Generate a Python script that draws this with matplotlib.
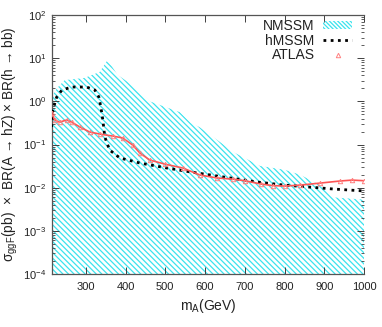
import matplotlib
matplotlib.use('Agg')
import matplotlib.pyplot as plt
import matplotlib.patches as mpatches
import matplotlib.lines as mlines
from matplotlib.ticker import LogLocator, NullFormatter
import numpy as np

plt.rcParams['font.family'] = ['Liberation Sans', 'DejaVu Sans']
plt.rcParams['mathtext.fontset'] = 'custom'
plt.rcParams['mathtext.rm'] = 'Liberation Sans'
plt.rcParams['mathtext.it'] = 'Liberation Sans:italic'
plt.rcParams['mathtext.default'] = 'regular'
plt.rcParams['hatch.linewidth'] = 0.9

# NMSSM scan region: upper edge (mA in GeV, sigma x BR in pb)
nmssm_mA = [215, 227, 247, 297, 335, 355, 380, 420, 461, 537, 564, 587, 675, 738, 800, 839, 889, 920, 1000]
nmssm_top = [1.3, 2.0, 3.1, 3.5, 4.8, 9.1, 4.1, 2.3, 1.0, 0.56, 0.32, 0.25, 0.064, 0.032, 0.026, 0.020, 0.0115, 0.006, 0.0053]

# hMSSM curve (parametric, loops back at low mA)
hmssm_mA = [214, 217, 227, 240, 265, 302, 323, 333, 338, 343, 348, 360, 386, 436, 500, 564, 647, 733, 799, 859, 924, 1000]
hmssm_val = [0.255, 0.63, 1.26, 1.83, 2.15, 2.15, 1.83, 1.26, 0.74, 0.37, 0.149, 0.0746, 0.0487, 0.0373, 0.029, 0.0231,
             0.0177, 0.0135, 0.0115, 0.0104, 0.0093, 0.0084]

# ATLAS limit
atlas_mA = [214, 222, 234, 252, 265, 285, 310, 335, 368, 393, 418, 436, 461, 500, 544, 587, 630, 670, 700, 740,
            770, 800, 840, 890, 940, 970, 1000]
atlas_val = [0.54, 0.37, 0.33, 0.37, 0.33, 0.255, 0.195, 0.175, 0.157, 0.142, 0.0975, 0.0636, 0.0438, 0.035, 0.0286,
             0.0197, 0.0168, 0.0158, 0.0145, 0.0122, 0.0112, 0.0109, 0.0115, 0.0128, 0.0143, 0.0150, 0.0145]

y_floor = 1e-4
cyan = '#3BE3EE'
hatch = '\\' * 6

fig = plt.figure(figsize=(3.82, 3.27), dpi=100)
ax = fig.add_axes([0.136, 0.162, 0.817, 0.792])

# NMSSM region
poly_x = nmssm_mA + [nmssm_mA[-1], nmssm_mA[0]]
poly_y = nmssm_top + [y_floor, y_floor]
ax.fill(poly_x, poly_y, facecolor='none', edgecolor=cyan, hatch=hatch, linewidth=0, zorder=1)

# hMSSM
hm_style = dict(color='black', linewidth=2.0, linestyle=(0, (1.0, 1.6)), dash_capstyle='butt')
ax.plot(hmssm_mA, hmssm_val, zorder=3, **hm_style)

# ATLAS
ax.plot(atlas_mA, atlas_val, color='#FF5555', linewidth=1.2, zorder=4)
ax.plot(atlas_mA, atlas_val, linestyle='none', marker='^', markersize=3.2, markerfacecolor='none',
        markeredgecolor='#FF8080', markeredgewidth=0.7, zorder=4)

ax.set_yscale('log')
ax.set_xlim(215, 1000)
ax.set_ylim(1e-4, 1e2)

ax.set_xticks([300, 400, 500, 600, 700, 800, 900, 1000])
ax.yaxis.set_major_locator(LogLocator(base=10, numticks=10))
ax.yaxis.set_minor_locator(LogLocator(base=10, subs=np.arange(2, 10), numticks=20))
ax.yaxis.set_minor_formatter(NullFormatter())

ax.tick_params(axis='both', which='major', direction='in', length=5, width=0.7, color='#404040',
               labelsize=8, top=True, right=True, labelcolor='#222222')
ax.tick_params(axis='y', which='minor', direction='in', length=2.5, width=0.6, color='#404040',
               left=True, right=True)
ax.tick_params(axis='x', which='major', pad=6)
ax.tick_params(axis='y', which='major', pad=4)

for s in ['left', 'bottom', 'top']:
    ax.spines[s].set_color('#555555')
    ax.spines[s].set_linewidth(0.9)
ax.spines['right'].set_visible(False)

ax.set_xlabel(r'm$_\mathrm{A}$(GeV)', fontsize=10, color='#222222', labelpad=3)
ax.set_ylabel(r'σ$_\mathrm{ggF}$(pb)  ×  BR(A → hZ) × BR(h → bb)', fontsize=9.8, color='#222222', labelpad=2)

h_nmssm = mpatches.Patch(facecolor='none', edgecolor=cyan, hatch='\\' * 8, linewidth=0)
h_hmssm = mlines.Line2D([], [], **hm_style)
h_atlas = mlines.Line2D([], [], linestyle='none', marker='^', markersize=3.2, markerfacecolor='none',
                        markeredgecolor='#FF8080', markeredgewidth=0.7)
leg = ax.legend([h_nmssm, h_hmssm, h_atlas], ['NMSSM', 'hMSSM', 'ATLAS'], loc='upper right',
                bbox_to_anchor=(0.962, 0.985), frameon=False, markerfirst=False, fontsize=10,
                handlelength=2.1, handleheight=0.6, handletextpad=0.6, labelspacing=0.05, borderpad=0,
                borderaxespad=0)
for t in leg.get_texts():
    t.set_color('#222222')

fig.savefig('out.png', dpi=100)
